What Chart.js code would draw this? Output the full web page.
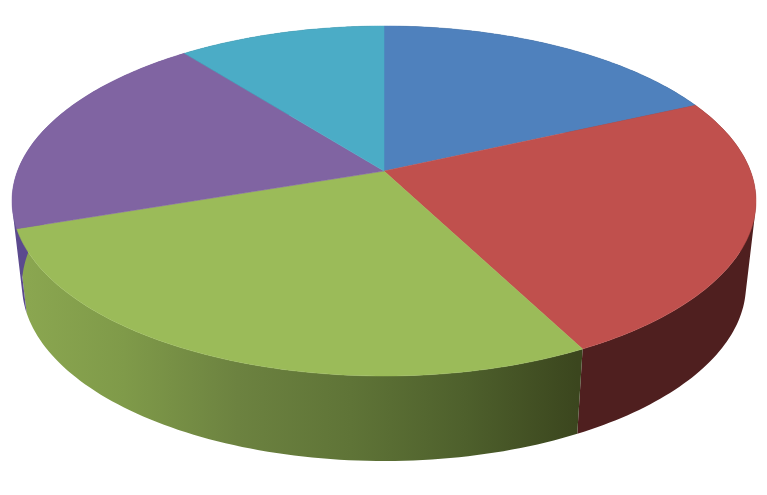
<!DOCTYPE html>
<html>
<head>
<meta charset="utf-8">
<title>Pie</title>
<script src="https://cdn.jsdelivr.net/npm/chart.js@4"></script>
<style>
  html, body { margin: 0; padding: 0; background: #fff; overflow: hidden; }
  #wrap { width: 767px; height: 495px; }
</style>
</head>
<body>
<div id="wrap"><canvas id="pie"></canvas></div>
<script>
const categories = ['A', 'B', 'C', 'D', 'E'];
const shares = [18.2, 24.2, 27.4, 19.6, 10.6];
const topColors = ['#4f81bd', '#c0504d', '#9bbb59', '#8064a2', '#4bacc6'];
const wallColors = ['#2a4564', '#4f1f1f', '#3c471f', '#5b4a8e', '#27606f'];

// look of the tilted disc
const stretchX = 372 / 175;   // arcs come out of the library round, wide ellipse here
const tilt = -0.171;          // perspective: how far the apex sits above the disc centre
const wallShrink = 362 / 372;
const wallDrop = 84;
const wallScaleY = 176 / 175;

// circle -> circle homography, keeps lines through the centre straight
function project(arc, angle, isBottom) {
  const u = Math.cos(angle), v = Math.sin(angle);
  const d = 1 + tilt * v;
  const nx = Math.sqrt(1 - tilt * tilt) * u / d;
  const ny = (v + tilt) / d;
  const rx = arc.outerRadius * stretchX * (isBottom ? wallShrink : 1);
  const ry = arc.outerRadius * (isBottom ? wallScaleY : 1);
  return { x: arc.x + nx * rx, y: arc.y + (isBottom ? wallDrop : 0) + ny * ry };
}

function greenWall(ctx, arc) {
  const left = arc.x - arc.outerRadius * stretchX;
  const g = ctx.createLinearGradient(left, 0, left + 565, 0);
  g.addColorStop(0, '#8ca851');
  g.addColorStop(0.2, '#7f9a49');
  g.addColorStop(0.4, '#6c8240');
  g.addColorStop(0.6, '#5f7437');
  g.addColorStop(0.8, '#4e602c');
  g.addColorStop(1, '#3b461e');
  return g;
}

// all quads in one path with the same winding, so no seams between them
function drawWall(ctx, arc, i) {
  const steps = 80;
  const span = arc.endAngle - arc.startAngle;
  ctx.beginPath();
  for (let s = 0; s < steps; s++) {
    const a0 = arc.startAngle + span * s / steps;
    const a1 = arc.startAngle + span * (s + 1) / steps;
    const quad = [project(arc, a0, false), project(arc, a1, false), project(arc, a1, true), project(arc, a0, true)];
    let area = 0;
    quad.forEach((p, k) => {
      const n = quad[(k + 1) % 4];
      area += p.x * n.y - n.x * p.y;
    });
    if (area < 0) quad.reverse();
    ctx.moveTo(quad[0].x, quad[0].y);
    ctx.lineTo(quad[1].x, quad[1].y);
    ctx.lineTo(quad[2].x, quad[2].y);
    ctx.lineTo(quad[3].x, quad[3].y);
    ctx.closePath();
  }
  ctx.fillStyle = i === 2 ? greenWall(ctx, arc) : wallColors[i];
  ctx.fill();
}

function drawTop(ctx, arc, i) {
  const steps = 80;
  const span = arc.endAngle - arc.startAngle;
  ctx.beginPath();
  ctx.moveTo(arc.x, arc.y + tilt * arc.outerRadius);
  for (let s = 0; s <= steps; s++) {
    const p = project(arc, arc.startAngle + span * s / steps, false);
    ctx.lineTo(p.x, p.y);
  }
  ctx.closePath();
  ctx.fillStyle = topColors[i];
  ctx.strokeStyle = topColors[i];
  ctx.lineWidth = 0.5;
  ctx.fill();
  ctx.stroke();
}

const tiltedPie = {
  id: 'tiltedPie',
  beforeDatasetDraw(chart, args) {
    const ctx = chart.ctx;
    const arcs = args.meta.data;
    ctx.save();
    arcs.forEach((arc, i) => drawWall(ctx, arc, i));
    arcs.forEach((arc, i) => drawTop(ctx, arc, i));
    ctx.restore();
    return false;   // the round arcs of the library stay undrawn
  }
};

new Chart(document.getElementById('pie'), {
  type: 'pie',
  data: {
    labels: categories,
    datasets: [{ data: shares, backgroundColor: topColors, borderWidth: 0 }]
  },
  options: {
    responsive: true,
    maintainAspectRatio: false,
    animation: false,
    layout: { padding: { left: 1, right: 0, top: 26, bottom: 119 } },
    plugins: { legend: { display: false }, tooltip: { enabled: false } }
  },
  plugins: [tiltedPie]
});
</script>
</body>
</html>
